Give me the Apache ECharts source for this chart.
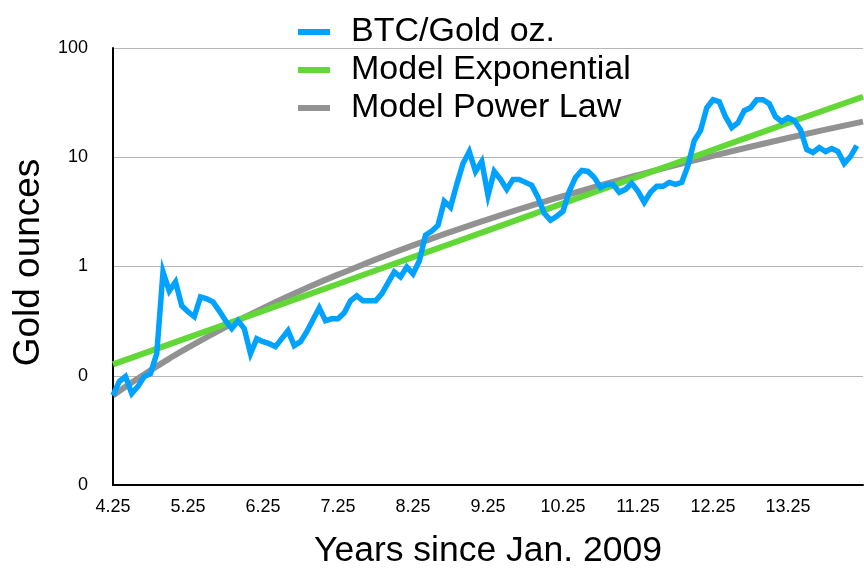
<!DOCTYPE html>
<html>
<head>
<meta charset="utf-8">
<script src="https://cdn.jsdelivr.net/npm/echarts@6/dist/echarts.min.js"></script>
<style>
html,body{margin:0;padding:0;background:#fff;}
#chart{width:864px;height:574px;}
</style>
</head>
<body>
<div id="chart"></div>
<script>
// BTC price in gold ounces, monthly samples starting at 4.25 years since Jan. 2009
const btcStartYear = 4.25;
const btcValues = [
  0.0661, 0.0886, 0.0984, 0.0689, 0.0798, 0.0984, 0.1048, 0.1595, 0.891, 0.598,
  0.723, 0.437, 0.385, 0.347, 0.527, 0.506, 0.475, 0.393, 0.319, 0.270,
  0.319, 0.270, 0.1595, 0.2185, 0.205, 0.1967, 0.1847, 0.2185, 0.2584, 0.1886,
  0.205, 0.253, 0.3255, 0.4185, 0.319, 0.3324, 0.3324, 0.377, 0.485, 0.5385,
  0.485, 0.485, 0.485, 0.5617, 0.7074, 0.891, 0.802, 0.989, 0.855, 1.122,
  1.936, 2.106, 2.388, 3.953, 3.484, 5.645, 8.772, 11.28, 7.418, 9.148,
  4.482, 7.418, 6.27, 5.085, 6.27, 6.27, 5.887, 5.528, 4.298, 3.072,
  2.653, 2.885, 3.204, 4.875, 6.539, 7.575, 7.418, 6.539, 5.302, 5.645,
  5.645, 4.773, 5.085, 5.765, 4.875, 3.871, 4.773, 5.414, 5.414, 5.887,
  5.645, 5.887, 8.41, 14.21, 17.53, 28.40, 33.59, 32.21, 23.51, 18.67,
  20.73, 26.67, 28.40, 33.59, 33.59, 30.88, 23.51, 21.17, 23.02, 21.62,
  17.89, 11.77, 11.05, 12.27, 11.28, 12.01, 11.28, 8.772, 10.16, 12.80
];

// Model curves
const expYears = [4.25, 5.25, 6.25, 7.25, 8.25, 9.25, 10.25, 11.25, 12.25, 13.25, 14.25];
const expValues = [0.127, 0.223, 0.393, 0.692, 1.22, 2.14, 3.78, 6.65, 11.7, 20.6, 35.8];

const powYears = [4.25, 4.5, 4.75, 5.0, 5.25, 5.75, 6.25, 6.75, 7.25, 8.25, 9.25, 10.25, 11.25, 12.25, 13.25, 14.25];
const powValues = [0.066, 0.0867, 0.112, 0.1436, 0.181, 0.279, 0.416, 0.600, 0.843, 1.56, 2.70, 4.40, 6.87, 10.3, 15.0, 21.2];

// Axis ticks
const xMinYear = 4.25;
const xMaxYear = 14.25;
const yTickValues = [0.01, 0.1, 1, 10, 100];
const yTickLabels = ['0', '0', '1', '10', '100'];

const seriesNames = ['BTC/Gold oz.', 'Model Exponential', 'Model Power Law'];
const colors = ['#00A2FF', '#61D836', '#929292'];

const toX = t => +(t - xMinYear).toFixed(6);
const btcData = btcValues.map((v, i) => [toX(btcStartYear + i / 12), v]);
const expData = expYears.map((t, i) => [toX(t), expValues[i]]);
const powData = powYears.map((t, i) => [toX(t), powValues[i]]);

const FONT = '"Liberation Sans", Arial, Helvetica, sans-serif';

const chart = echarts.init(document.getElementById('chart'), null, {renderer: 'canvas'});
chart.setOption({
  animation: false,
  backgroundColor: '#fff',
  textStyle: {fontFamily: FONT, color: '#000'},
  grid: {left: 113, right: 1, top: 48, bottom: 87, containLabel: false},
  legend: {
    orient: 'vertical',
    left: 293,
    top: 9,
    icon: 'rect',
    itemWidth: 32,
    itemHeight: 6,
    itemGap: 2,
    data: seriesNames,
    textStyle: {fontFamily: FONT, fontSize: 34, color: '#000', padding: [0, 0, 0, 16], lineHeight: 36}
  },
  xAxis: {
    type: 'value',
    min: 0,
    max: xMaxYear - xMinYear,
    interval: 1,
    name: 'Years since Jan. 2009',
    nameLocation: 'middle',
    nameGap: 48,
    nameTextStyle: {fontFamily: FONT, fontSize: 35.5, color: '#000'},
    axisLine: {show: true, lineStyle: {color: '#000', width: 2}},
    axisTick: {show: false},
    splitLine: {show: false},
    axisLabel: {
      fontFamily: FONT, fontSize: 18, color: '#000', margin: 13,
      showMaxLabel: false,
      formatter: v => (v + xMinYear).toFixed(2)
    }
  },
  yAxis: {
    type: 'log',
    logBase: 10,
    min: yTickValues[0],
    max: yTickValues[yTickValues.length - 1],
    name: 'Gold ounces',
    nameLocation: 'middle',
    nameGap: 62,
    nameRotate: 90,
    nameTextStyle: {fontFamily: FONT, fontSize: 37, color: '#000', padding: [0, 0, 0, 8]},
    axisLine: {show: true, lineStyle: {color: '#000', width: 2}},
    axisTick: {show: false},
    splitLine: {show: true, lineStyle: {color: '#b5b5b5', width: 1}},
    axisLabel: {
      fontFamily: FONT, fontSize: 18, color: '#000', margin: 25,
      formatter: v => {
        let best = 0;
        yTickValues.forEach((tv, i) => {
          if (Math.abs(Math.log10(tv) - Math.log10(v)) < Math.abs(Math.log10(yTickValues[best]) - Math.log10(v))) best = i;
        });
        return yTickLabels[best];
      }
    }
  },
  series: [
    {
      name: seriesNames[0], type: 'line', data: btcData, showSymbol: false, symbol: 'none',
      z: 4, lineStyle: {color: colors[0], width: 5.5, join: 'miter'}, itemStyle: {color: colors[0]}
    },
    {
      name: seriesNames[1], type: 'line', data: expData, showSymbol: false, symbol: 'none', smooth: true,
      z: 3, lineStyle: {color: colors[1], width: 6}, itemStyle: {color: colors[1]}
    },
    {
      name: seriesNames[2], type: 'line', data: powData, showSymbol: false, symbol: 'none', smooth: true,
      z: 2, lineStyle: {color: colors[2], width: 6}, itemStyle: {color: colors[2]}
    }
  ]
});
</script>
</body>
</html>
